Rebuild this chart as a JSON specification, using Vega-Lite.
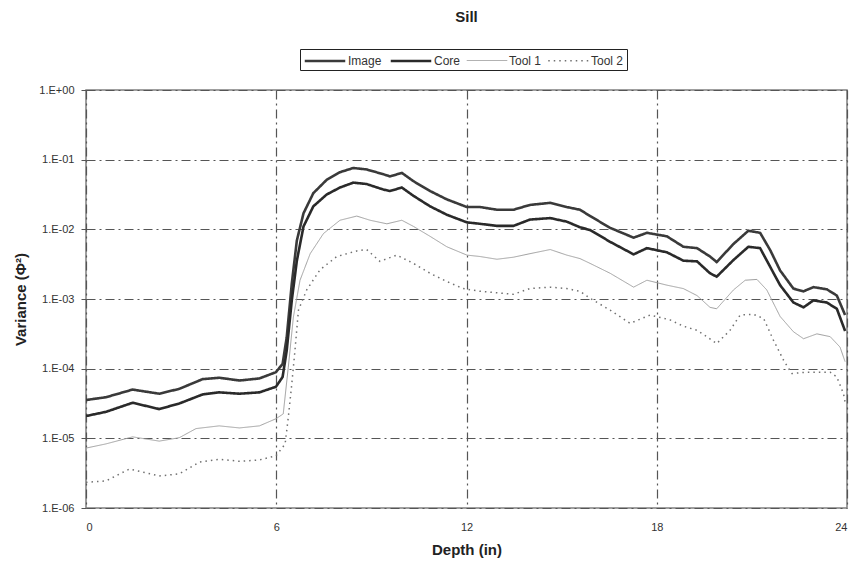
{
  "$schema": "https://vega.github.io/schema/vega-lite/v6.json",
  "autosize": "none",
  "width": 761,
  "height": 418,
  "padding": {"left": 86, "top": 90, "right": 12, "bottom": 57},
  "background": "white",
  "title": {"text": "Sill", "font": "Liberation Sans", "fontSize": 15, "fontWeight": "bold", "color": "#222", "anchor": "middle", "offset": 24},
  "config": {
    "view": {"stroke": "#808080", "strokeWidth": 1.5},
    "font": "Liberation Sans"
  },
  "data": {"values": [
    {"d":0,"s":"Image","v":3.55e-5},{"d":0.63,"s":"Image","v":3.89e-5},{"d":1.47,"s":"Image","v":5.01e-5},{"d":2.31,"s":"Image","v":4.37e-5},{"d":2.94,"s":"Image","v":5.13e-5},{"d":3.68,"s":"Image","v":7.08e-5},{"d":4.2,"s":"Image","v":7.41e-5},{"d":4.84,"s":"Image","v":6.76e-5},{"d":5.47,"s":"Image","v":7.24e-5},{"d":5.99,"s":"Image","v":8.91e-5},{"d":6.2,"s":"Image","v":1.17e-4},{"d":6.33,"s":"Image","v":2.82e-4},{"d":6.49,"s":"Image","v":1.66e-3},{"d":6.65,"s":"Image","v":6.92e-3},{"d":6.86,"s":"Image","v":1.70e-2},{"d":7.17,"s":"Image","v":3.31e-2},{"d":7.59,"s":"Image","v":5.13e-2},{"d":8.01,"s":"Image","v":6.61e-2},{"d":8.43,"s":"Image","v":7.59e-2},{"d":8.85,"s":"Image","v":7.24e-2},{"d":9.38,"s":"Image","v":6.17e-2},{"d":9.59,"s":"Image","v":5.75e-2},{"d":9.96,"s":"Image","v":6.46e-2},{"d":10.33,"s":"Image","v":4.90e-2},{"d":10.85,"s":"Image","v":3.55e-2},{"d":11.38,"s":"Image","v":2.69e-2},{"d":12.01,"s":"Image","v":2.09e-2},{"d":12.43,"s":"Image","v":2.09e-2},{"d":12.96,"s":"Image","v":1.91e-2},{"d":13.48,"s":"Image","v":1.91e-2},{"d":14.0,"s":"Image","v":2.24e-2},{"d":14.64,"s":"Image","v":2.40e-2},{"d":15.16,"s":"Image","v":2.09e-2},{"d":15.58,"s":"Image","v":1.91e-2},{"d":15.9,"s":"Image","v":1.55e-2},{"d":16.53,"s":"Image","v":1.05e-2},{"d":17.27,"s":"Image","v":7.59e-3},{"d":17.69,"s":"Image","v":8.91e-3},{"d":18.32,"s":"Image","v":7.94e-3},{"d":18.84,"s":"Image","v":5.62e-3},{"d":19.27,"s":"Image","v":5.37e-3},{"d":19.68,"s":"Image","v":4.07e-3},{"d":19.89,"s":"Image","v":3.39e-3},{"d":20.42,"s":"Image","v":6.17e-3},{"d":20.89,"s":"Image","v":9.55e-3},{"d":21.26,"s":"Image","v":8.91e-3},{"d":21.58,"s":"Image","v":5.01e-3},{"d":21.89,"s":"Image","v":2.57e-3},{"d":22.31,"s":"Image","v":1.41e-3},{"d":22.63,"s":"Image","v":1.29e-3},{"d":22.94,"s":"Image","v":1.48e-3},{"d":23.36,"s":"Image","v":1.38e-3},{"d":23.68,"s":"Image","v":1.12e-3},{"d":23.94,"s":"Image","v":5.89e-4},

    {"d":0,"s":"Core","v":2.09e-5},{"d":0.63,"s":"Core","v":2.40e-5},{"d":1.47,"s":"Core","v":3.24e-5},{"d":2.31,"s":"Core","v":2.63e-5},{"d":2.94,"s":"Core","v":3.16e-5},{"d":3.68,"s":"Core","v":4.27e-5},{"d":4.2,"s":"Core","v":4.57e-5},{"d":4.84,"s":"Core","v":4.37e-5},{"d":5.47,"s":"Core","v":4.57e-5},{"d":5.99,"s":"Core","v":5.50e-5},{"d":6.2,"s":"Core","v":7.59e-5},{"d":6.33,"s":"Core","v":1.82e-4},{"d":6.49,"s":"Core","v":9.55e-4},{"d":6.65,"s":"Core","v":3.55e-3},{"d":6.86,"s":"Core","v":1.10e-2},{"d":7.17,"s":"Core","v":2.14e-2},{"d":7.59,"s":"Core","v":3.16e-2},{"d":8.01,"s":"Core","v":3.98e-2},{"d":8.43,"s":"Core","v":4.68e-2},{"d":8.85,"s":"Core","v":4.47e-2},{"d":9.38,"s":"Core","v":3.72e-2},{"d":9.59,"s":"Core","v":3.55e-2},{"d":9.96,"s":"Core","v":3.98e-2},{"d":10.33,"s":"Core","v":3.02e-2},{"d":10.85,"s":"Core","v":2.14e-2},{"d":11.38,"s":"Core","v":1.62e-2},{"d":12.01,"s":"Core","v":1.26e-2},{"d":12.43,"s":"Core","v":1.20e-2},{"d":12.96,"s":"Core","v":1.12e-2},{"d":13.48,"s":"Core","v":1.12e-2},{"d":14.0,"s":"Core","v":1.38e-2},{"d":14.64,"s":"Core","v":1.45e-2},{"d":15.16,"s":"Core","v":1.29e-2},{"d":15.58,"s":"Core","v":1.07e-2},{"d":15.9,"s":"Core","v":9.77e-3},{"d":16.53,"s":"Core","v":6.61e-3},{"d":17.27,"s":"Core","v":4.37e-3},{"d":17.69,"s":"Core","v":5.37e-3},{"d":18.32,"s":"Core","v":4.68e-3},{"d":18.84,"s":"Core","v":3.55e-3},{"d":19.27,"s":"Core","v":3.47e-3},{"d":19.68,"s":"Core","v":2.34e-3},{"d":19.89,"s":"Core","v":2.09e-3},{"d":20.42,"s":"Core","v":3.63e-3},{"d":20.89,"s":"Core","v":5.62e-3},{"d":21.26,"s":"Core","v":5.37e-3},{"d":21.58,"s":"Core","v":2.88e-3},{"d":21.89,"s":"Core","v":1.58e-3},{"d":22.31,"s":"Core","v":8.91e-4},{"d":22.63,"s":"Core","v":7.59e-4},{"d":22.94,"s":"Core","v":9.55e-4},{"d":23.36,"s":"Core","v":8.91e-4},{"d":23.68,"s":"Core","v":7.24e-4},{"d":23.94,"s":"Core","v":3.47e-4},

    {"d":0,"s":"Tool 1","v":7.24e-6},{"d":0.63,"s":"Tool 1","v":8.32e-6},{"d":1.47,"s":"Tool 1","v":1.05e-5},{"d":2.31,"s":"Tool 1","v":9.12e-6},{"d":2.94,"s":"Tool 1","v":1.02e-5},{"d":3.47,"s":"Tool 1","v":1.38e-5},{"d":4.2,"s":"Tool 1","v":1.51e-5},{"d":4.84,"s":"Tool 1","v":1.41e-5},{"d":5.47,"s":"Tool 1","v":1.51e-5},{"d":5.99,"s":"Tool 1","v":1.91e-5},{"d":6.22,"s":"Tool 1","v":2.24e-5},{"d":6.38,"s":"Tool 1","v":1.05e-4},{"d":6.54,"s":"Tool 1","v":5.50e-4},{"d":6.75,"s":"Tool 1","v":1.86e-3},{"d":7.07,"s":"Tool 1","v":4.47e-3},{"d":7.49,"s":"Tool 1","v":8.71e-3},{"d":8.01,"s":"Tool 1","v":1.35e-2},{"d":8.54,"s":"Tool 1","v":1.55e-2},{"d":8.96,"s":"Tool 1","v":1.35e-2},{"d":9.49,"s":"Tool 1","v":1.20e-2},{"d":9.96,"s":"Tool 1","v":1.35e-2},{"d":10.33,"s":"Tool 1","v":1.10e-2},{"d":10.85,"s":"Tool 1","v":7.94e-3},{"d":11.38,"s":"Tool 1","v":5.62e-3},{"d":12.01,"s":"Tool 1","v":4.27e-3},{"d":12.43,"s":"Tool 1","v":4.07e-3},{"d":12.96,"s":"Tool 1","v":3.72e-3},{"d":13.48,"s":"Tool 1","v":3.98e-3},{"d":14.0,"s":"Tool 1","v":4.47e-3},{"d":14.64,"s":"Tool 1","v":5.13e-3},{"d":15.16,"s":"Tool 1","v":4.27e-3},{"d":15.58,"s":"Tool 1","v":3.80e-3},{"d":15.9,"s":"Tool 1","v":3.24e-3},{"d":16.53,"s":"Tool 1","v":2.34e-3},{"d":17.27,"s":"Tool 1","v":1.48e-3},{"d":17.69,"s":"Tool 1","v":1.86e-3},{"d":18.32,"s":"Tool 1","v":1.58e-3},{"d":18.84,"s":"Tool 1","v":1.41e-3},{"d":19.27,"s":"Tool 1","v":1.12e-3},{"d":19.68,"s":"Tool 1","v":7.59e-4},{"d":19.89,"s":"Tool 1","v":7.24e-4},{"d":20.42,"s":"Tool 1","v":1.35e-3},{"d":20.79,"s":"Tool 1","v":1.86e-3},{"d":21.16,"s":"Tool 1","v":1.91e-3},{"d":21.47,"s":"Tool 1","v":1.35e-3},{"d":21.89,"s":"Tool 1","v":5.62e-4},{"d":22.31,"s":"Tool 1","v":3.39e-4},{"d":22.63,"s":"Tool 1","v":2.69e-4},{"d":23.05,"s":"Tool 1","v":3.16e-4},{"d":23.47,"s":"Tool 1","v":2.88e-4},{"d":23.78,"s":"Tool 1","v":2.04e-4},{"d":23.94,"s":"Tool 1","v":1.26e-4},

    {"d":0,"s":"Tool 2","v":2.34e-6},{"d":0.63,"s":"Tool 2","v":2.45e-6},{"d":1.37,"s":"Tool 2","v":3.63e-6},{"d":2.31,"s":"Tool 2","v":2.88e-6},{"d":2.94,"s":"Tool 2","v":3.09e-6},{"d":3.58,"s":"Tool 2","v":4.57e-6},{"d":4.2,"s":"Tool 2","v":5.01e-6},{"d":4.84,"s":"Tool 2","v":4.68e-6},{"d":5.47,"s":"Tool 2","v":4.90e-6},{"d":5.99,"s":"Tool 2","v":5.62e-6},{"d":6.2,"s":"Tool 2","v":7.41e-6},{"d":6.28,"s":"Tool 2","v":8.32e-6},{"d":6.38,"s":"Tool 2","v":2.00e-5},{"d":6.49,"s":"Tool 2","v":6.03e-5},{"d":6.59,"s":"Tool 2","v":1.82e-4},{"d":6.7,"s":"Tool 2","v":6.92e-4},{"d":6.96,"s":"Tool 2","v":1.35e-3},{"d":7.38,"s":"Tool 2","v":2.63e-3},{"d":7.91,"s":"Tool 2","v":4.07e-3},{"d":8.54,"s":"Tool 2","v":4.90e-3},{"d":8.85,"s":"Tool 2","v":5.13e-3},{"d":9.27,"s":"Tool 2","v":3.47e-3},{"d":9.8,"s":"Tool 2","v":4.27e-3},{"d":10.33,"s":"Tool 2","v":3.24e-3},{"d":10.85,"s":"Tool 2","v":2.34e-3},{"d":11.38,"s":"Tool 2","v":1.78e-3},{"d":11.9,"s":"Tool 2","v":1.41e-3},{"d":12.43,"s":"Tool 2","v":1.29e-3},{"d":12.96,"s":"Tool 2","v":1.23e-3},{"d":13.48,"s":"Tool 2","v":1.17e-3},{"d":14.0,"s":"Tool 2","v":1.41e-3},{"d":14.64,"s":"Tool 2","v":1.48e-3},{"d":15.16,"s":"Tool 2","v":1.41e-3},{"d":15.58,"s":"Tool 2","v":1.29e-3},{"d":15.9,"s":"Tool 2","v":1.02e-3},{"d":16.53,"s":"Tool 2","v":6.92e-4},{"d":17.16,"s":"Tool 2","v":4.47e-4},{"d":17.79,"s":"Tool 2","v":5.89e-4},{"d":18.42,"s":"Tool 2","v":5.01e-4},{"d":18.84,"s":"Tool 2","v":4.07e-4},{"d":19.27,"s":"Tool 2","v":3.55e-4},{"d":19.58,"s":"Tool 2","v":2.88e-4},{"d":19.89,"s":"Tool 2","v":2.29e-4},{"d":20.31,"s":"Tool 2","v":3.55e-4},{"d":20.63,"s":"Tool 2","v":5.89e-4},{"d":21.05,"s":"Tool 2","v":6.03e-4},{"d":21.37,"s":"Tool 2","v":5.25e-4},{"d":21.68,"s":"Tool 2","v":2.57e-4},{"d":22.0,"s":"Tool 2","v":1.32e-4},{"d":22.26,"s":"Tool 2","v":8.51e-5},{"d":22.73,"s":"Tool 2","v":8.91e-5},{"d":23.15,"s":"Tool 2","v":8.91e-5},{"d":23.47,"s":"Tool 2","v":8.91e-5},{"d":23.68,"s":"Tool 2","v":7.59e-5},{"d":23.89,"s":"Tool 2","v":4.37e-5},{"d":23.94,"s":"Tool 2","v":3.31e-5}
  ]},
  "mark": {"type": "line", "clip": true},
  "encoding": {
    "x": {
      "field": "d", "type": "quantitative",
      "scale": {"domain": [0, 24], "nice": false, "zero": false},
      "axis": {
        "title": "Depth (in)", "values": [0, 6, 12, 18, 24],
        "titleFont": "Liberation Sans", "titleFontSize": 15, "titleFontWeight": "bold", "titleColor": "#222", "titlePadding": 10,
        "labelFont": "Liberation Sans", "labelFontSize": 11, "labelColor": "#333", "labelPadding": 13,
        "ticks": false, "domain": false,
        "grid": true, "gridColor": "#555", "gridDash": [9, 4, 2, 4], "gridWidth": 1.2
      }
    },
    "y": {
      "field": "v", "type": "quantitative",
      "scale": {"type": "log", "domain": [1e-6, 1], "nice": false},
      "axis": {
        "title": "Variance (Φ²)", "values": [1e-6, 1e-5, 1e-4, 1e-3, 1e-2, 1e-1, 1],
        "labelExpr": "'1.E' + (datum.value >= 1 ? '+' : '-') + '0' + abs(round(log(datum.value)/LN10))",
        "titleFont": "Liberation Sans", "titleFontSize": 15, "titleFontWeight": "bold", "titleColor": "#222", "titlePadding": 10,
        "labelFont": "Liberation Sans", "labelFontSize": 11, "labelColor": "#333", "labelPadding": 7,
        "ticks": true, "tickSize": 5, "tickColor": "#555", "domain": false,
        "grid": true, "gridColor": "#555", "gridDash": [9, 4, 2, 4], "gridWidth": 1.2
      }
    },
    "color": {
      "field": "s", "type": "nominal",
      "scale": {"domain": ["Image", "Core", "Tool 1", "Tool 2"], "range": ["#3a3a3a", "#2a2a2a", "#a0a0a0", "#707070"]},
      "legend": {
        "title": null, "orient": "none", "legendX": 214, "legendY": -41, "direction": "horizontal",
        "symbolType": "M-2.7,0H2.7", "symbolSize": 225, "symbolOffset": 13, "labelFont": "Liberation Sans", "labelFontSize": 12, "labelColor": "#333",
        "labelOffset": 14, "columnPadding": 3, "strokeColor": "#222", "fillColor": "white", "padding": 3
      }
    },
    "strokeWidth": {
      "field": "s", "type": "nominal",
      "scale": {"type": "ordinal", "domain": ["Image", "Core", "Tool 1", "Tool 2"], "range": [2.6, 2.6, 1, 1.5]},
      "legend": null
    },
    "strokeDash": {
      "field": "s", "type": "nominal",
      "scale": {"domain": ["Image", "Core", "Tool 1", "Tool 2"], "range": [[1, 0], [1, 0], [1, 0], [1.5, 4]]},
      "legend": null
    }
  }
}
